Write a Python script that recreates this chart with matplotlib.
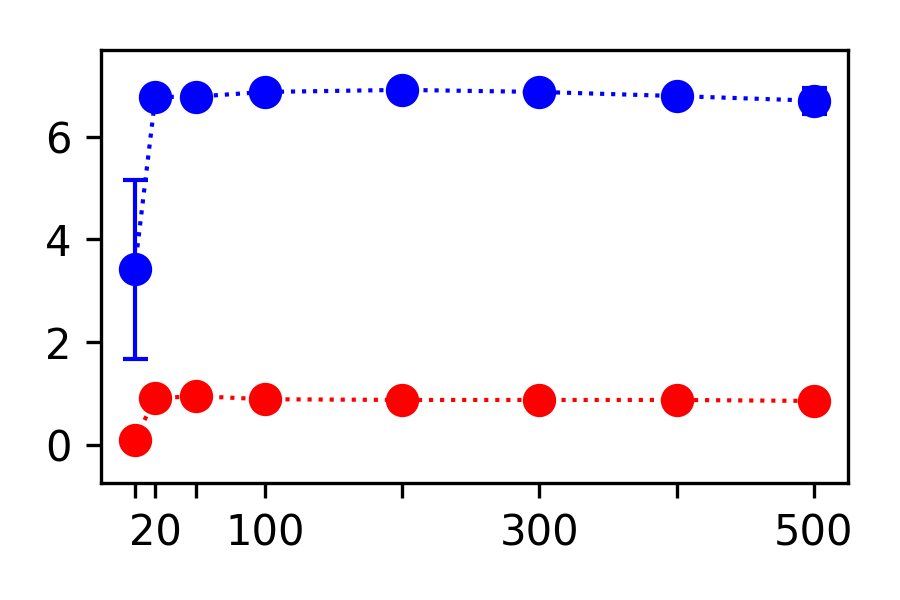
import matplotlib
matplotlib.use("Agg")
import matplotlib.pyplot as plt

# x positions (sample sizes) and readings from the chart
x_vals = [5, 20, 50, 100, 200, 300, 400, 500]
blue_mean = [3.42, 6.77, 6.78, 6.87, 6.91, 6.87, 6.79, 6.70]
blue_err = [1.74, 0.05, 0.04, 0.04, 0.04, 0.04, 0.04, 0.25]
red_mean = [0.10, 0.91, 0.95, 0.89, 0.876, 0.876, 0.876, 0.857]
red_err = [0.09, 0.03, 0.06, 0.03, 0.02, 0.02, 0.02, 0.02]

tick_pos = [5, 20, 50, 100, 200, 300, 400, 500]
tick_labels = ["", "20", "", "100", "", "300", "", "500"]

fig, ax = plt.subplots(figsize=(3, 2), dpi=300)

ax.errorbar(x_vals, blue_mean, yerr=blue_err, fmt='o:', color='blue',
            markersize=7, capsize=3, linewidth=1)
ax.errorbar(x_vals, red_mean, yerr=red_err, fmt='o:', color='red',
            markersize=7, capsize=3, linewidth=1)

ax.set_xticks(tick_pos)
ax.set_xticklabels(tick_labels)
ax.set_yticks([0, 2, 4, 6])
ax.set_ylim(-0.74, 7.69)
ax.set_xlim(-19.75, 524.75)

plt.subplots_adjust(left=0.112, right=0.942, top=0.917, bottom=0.195)
fig.savefig("out.png", dpi=300)
